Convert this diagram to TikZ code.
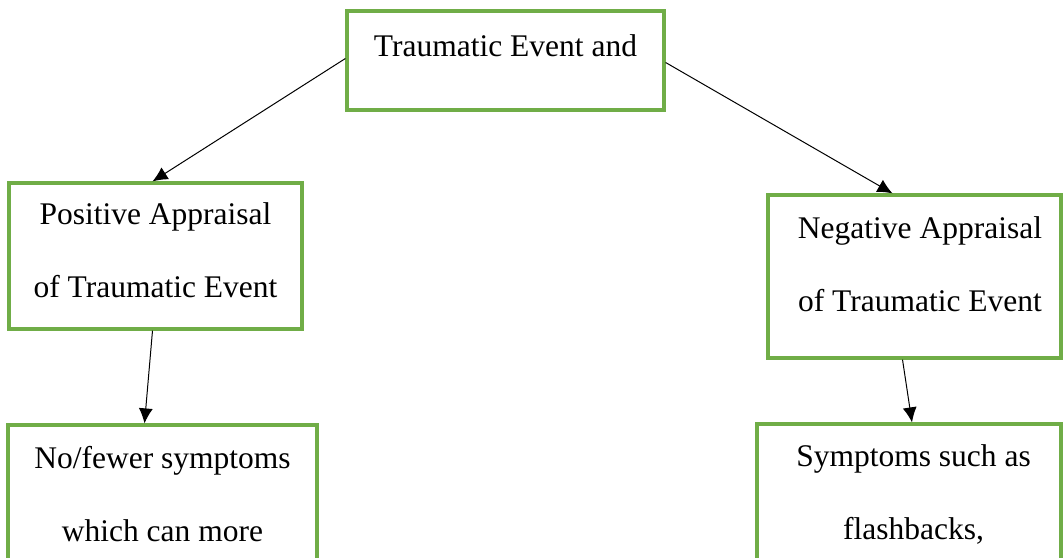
\documentclass[tikz,border=0pt]{standalone}
\usepackage{fontspec}
\setmainfont{Liberation Serif}
\usetikzlibrary{positioning,arrows.meta}
\definecolor{boxgreen}{HTML}{70AD47}

\begin{document}
\begin{tikzpicture}[
                x=1pt, y=-1pt,
                every node/.style={font=\fontsize{31.5}{73}\selectfont},
                block/.style={rectangle, draw=boxgreen, line width=3.2pt, inner sep=0pt},
                caption/.style={align=center, inner sep=0pt, anchor=north},
                arrow/.style={draw, line width=1pt, -{Latex[length=15pt,width=14pt]}}
            ]
            \clip (0,0) rectangle (1063,557);
            
            % Nodes
            \node [block, minimum width=317, minimum height=99] (trauma) at (505.5,60.5) {};
            \node [block, minimum width=293, minimum height=146] (pos) at (155.5,256) {};
            \node [block, minimum width=293, minimum height=163] (neg) at (914.5,276.5) {};
            \node [block, minimum width=309, minimum height=150] (fewer) at (162.5,500) {};
            \node [block, minimum width=304, minimum height=150] (sympt) at (909,499) {};
            
            % Texts
            \node [caption] (traumatext) at (505.5,34) {Traumatic Event and};
            \node [caption] (postext) at (155.5,202) {Positive Appraisal\\of Traumatic Event};
            \node [caption] (negtext) at (920,216) {Negative Appraisal\\of Traumatic Event};
            \node [caption] (fewertext) at (162.5,446) {No/fewer symptoms\\which can more};
            \node [caption] (sympttext) at (913.5,444) {Symptoms such as\\flashbacks,};
            
            % Arrows
            \draw[arrow] ([yshift=2]trauma.west) -- ([xshift=-3]pos.north);
            \draw[arrow] ([yshift=-2]trauma.east) -- ([xshift=-22]neg.north);
            \draw[arrow] ([xshift=-3]pos.south) -- ([xshift=-18]fewer.north);
            \draw[arrow] ([xshift=-12]neg.south) -- ([xshift=3]sympt.north);
            
\end{tikzpicture}
\end{document}
